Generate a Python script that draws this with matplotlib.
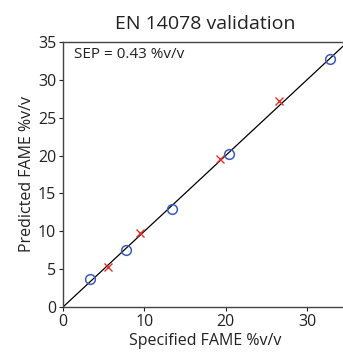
import matplotlib
matplotlib.use("Agg")
import matplotlib.pyplot as plt

plt.rcParams['font.family'] = ['Open Sans', 'DejaVu Sans']

circ_x = [3.3, 7.7, 13.4, 20.4, 32.8]
circ_y = [3.7, 7.5, 13.0, 20.2, 32.8]
cross_x = [5.5, 9.5, 19.3, 26.6]
cross_y = [5.25, 9.8, 19.5, 27.2]
line_x = [0, 36]
line_y = [0, 36]
title = "EN 14078 validation"
sep_text = "SEP = 0.43 %v/v"
xticks = [0, 10, 20, 30]
yticks = [0, 5, 10, 15, 20, 25, 30, 35]

fig = plt.figure(figsize=(3.43, 3.54), dpi=100)
ax = fig.add_axes([0.1837, 0.1328, 0.8297, 0.7486])
ax.plot(line_x, line_y, color='black', lw=0.9)
ax.plot(circ_x, circ_y, 'o', mfc='none', mec='#3a5bc0', ms=7, mew=1.1)
ax.plot(cross_x, cross_y, 'x', color='#e8302a', ms=5.5, mew=1.0)
ax.set_xlim(0, 35)
ax.set_ylim(0, 35)
ax.set_xticks(xticks)
ax.set_yticks(yticks)
ax.tick_params(length=3, width=0.8, labelsize=11.5, colors='#222222', pad=2)
for s in ax.spines.values():
    s.set_color('#444444')
    s.set_linewidth(1.0)
ax.set_title(title, fontsize=14, pad=9, color='#222222')
ax.set_xlabel("Specified FAME %v/v", fontsize=11.5, labelpad=2, color='#222222')
ax.set_ylabel("Predicted FAME %v/v", fontsize=11.5, labelpad=2, color='#222222')
ax.text(0.04, 0.98, sep_text, transform=ax.transAxes, fontsize=11, va='top', ha='left', color='#222222')
fig.savefig("out.png", dpi=100)
